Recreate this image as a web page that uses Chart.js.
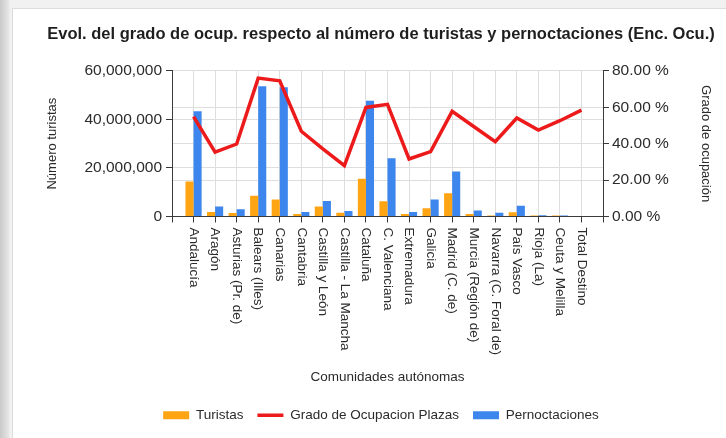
<!DOCTYPE html>
<html>
<head>
<meta charset="utf-8">
<script src="https://cdn.jsdelivr.net/npm/chart.js@4"></script>
<style>
  html, body { margin: 0; padding: 0; }
  body {
    width: 726px; height: 438px; overflow: hidden; position: relative;
    background: #f1f1f1;
    font-family: "Liberation Sans", Arial, sans-serif;
  }
  .strip {
    position: absolute; left: 0; top: 0; width: 11px; height: 438px;
    background: linear-gradient(to right, #c9c9c9, #e2e2e2 70%, #f4f4f4);
  }
  .card {
    position: absolute; left: 12px; top: 8px; right: 0; bottom: 0;
    background: #fff; border-left: 1px solid #dcdcdc; border-top: 1px solid #dcdcdc;
  }
  canvas { position: absolute; left: 0; top: 0; }
</style>
</head>
<body>
<div class="strip"></div>
<div class="card"></div>
<canvas id="chart" width="726" height="438"></canvas>
<script>
// Data
const comunidades = [
  "Andalucía", "Aragón", "Asturias (Pr. de)", "Balears (Illes)", "Canarias",
  "Cantabria", "Castilla y León", "Castilla - La Mancha", "Cataluña",
  "C. Valenciana", "Extremadura", "Galicia", "Madrid (C. de)",
  "Murcia (Región de)", "Navarra (C. Foral de)", "País Vasco", "Rioja (La)",
  "Ceuta y Melilla", "Total Destino"
];
// millions
const turistas = [14.4, 1.9, 1.4, 8.5, 7.0, 1.0, 4.1, 1.5, 15.5, 6.3, 1.0, 3.4, 9.6, 1.0, 0.4, 1.8, 0.4, 0.4, 0];
const pernoctaciones = [43.3, 4.1, 3.0, 53.6, 53.2, 1.9, 6.4, 2.3, 47.7, 24.0, 1.9, 7.0, 18.5, 2.5, 1.5, 4.4, 0.5, 0.4, 0];
// percent
const gradoOcupacion = [54.8, 35.3, 39.8, 76.0, 74.5, 46.8, 37.1, 27.9, 59.9, 61.6, 31.6, 35.6, 57.7, 49.4, 41.1, 54.1, 47.5, 52.6, 58.4];

const leftTicks = [0, 20000000, 40000000, 60000000];
const rightTicks = [0, 20, 40, 60, 80];

const ORANGE = "#ffa514";
const BLUE = "#3c86ee";
const RED = "#ec1a1a";
const TEXT = "#2b2b2b";
const GRID = "#dedede";
const AXIS = "#3a3a3a";
const FONT = "'Liberation Sans', Arial, sans-serif";

function points(values, factor) {
  return values.map(function (v, i) {
    return { x: i + 1, y: v * factor };
  });
}

// x labels are drawn reading top-to-bottom, starting under the axis
const xLabelPlugin = {
  id: "xLabels",
  afterDraw(chart) {
    const ctx = chart.ctx;
    const xScale = chart.scales.x;
    ctx.save();
    ctx.fillStyle = TEXT;
    ctx.font = "13.5px " + FONT;
    ctx.textAlign = "left";
    ctx.textBaseline = "middle";
    comunidades.forEach(function (label, i) {
      const px = xScale.getPixelForValue(i + 1);
      ctx.save();
      ctx.translate(px, xScale.top + 11);
      ctx.rotate(Math.PI / 2);
      ctx.fillText(label, 0, 0);
      ctx.restore();
    });
    ctx.restore();
  }
};

const ctx = document.getElementById("chart").getContext("2d");

new Chart(ctx, {
  type: "bar",
  data: {
    datasets: [
      {
        label: "Turistas",
        data: points(turistas, 1000000),
        backgroundColor: ORANGE,
        borderWidth: 0,
        yAxisID: "y",
        order: 1,
        pointStyle: "rect"
      },
      {
        type: "line",
        label: "Grado de Ocupacion Plazas",
        data: points(gradoOcupacion, 1),
        borderColor: RED,
        backgroundColor: RED,
        borderWidth: 3.5,
        pointRadius: 0,
        tension: 0,
        yAxisID: "y1",
        order: 0,
        pointStyle: "line"
      },
      {
        label: "Pernoctaciones",
        data: points(pernoctaciones, 1000000),
        backgroundColor: BLUE,
        borderWidth: 0,
        yAxisID: "y",
        order: 1,
        pointStyle: "rect"
      }
    ]
  },
  options: {
    responsive: false,
    animation: false,
    events: [],
    layout: { padding: { left: 36, right: 0, top: 0, bottom: 6 } },
    datasets: {
      bar: { barPercentage: 1, categoryPercentage: 0.75 }
    },
    scales: {
      x: {
        type: "linear",
        min: 0,
        max: comunidades.length + 1,
        offset: false,
        grid: { offset: false, color: GRID, tickColor: AXIS, tickLength: 6 },
        border: { color: AXIS, width: 1 },
        ticks: { display: false, stepSize: 1 },
        title: {
          display: true,
          text: "Comunidades autónomas",
          color: TEXT,
          font: { family: FONT, size: 13.5 },
          padding: { top: 0, bottom: 9 }
        },
        afterFit(scale) { scale.height = 178; }
      },
      y: {
        position: "left",
        min: 0,
        max: 60000000,
        afterBuildTicks(scale) {
          scale.ticks = leftTicks.map(function (v) { return { value: v }; });
        },
        grid: { color: GRID, tickColor: AXIS, tickLength: 6 },
        border: { color: AXIS, width: 1 },
        ticks: {
          color: TEXT,
          padding: 4,
          font: { family: FONT, size: 15.5 },
          callback: function (v) { return Number(v).toLocaleString("en-US"); }
        },
        title: {
          display: true,
          text: "Número turistas",
          color: TEXT,
          font: { family: FONT, size: 13 },
          padding: { top: 9, bottom: 0 }
        },
        afterFit(scale) { scale.width = 136; }
      },
      y1: {
        position: "right",
        min: 0,
        max: 80,
        afterBuildTicks(scale) {
          scale.ticks = rightTicks.map(function (v) { return { value: v }; });
        },
        grid: { color: GRID, tickColor: AXIS, tickLength: 6 },
        border: { color: AXIS, width: 1 },
        ticks: {
          color: TEXT,
          padding: 3,
          font: { family: FONT, size: 15.5 },
          callback: function (v) { return Number(v).toFixed(2) + " %"; }
        },
        title: {
          display: true,
          text: "Grado de ocupación",
          color: TEXT,
          font: { family: FONT, size: 13 },
          padding: { top: 13, bottom: 0 }
        },
        afterFit(scale) { scale.width = 123; }
      }
    },
    plugins: {
      title: {
        display: true,
        text: "Evol. del grado de ocup. respecto al número de turistas y pernoctaciones (Enc. Ocu.)",
        color: "#1e1e1e",
        font: { family: FONT, size: 16.5, weight: "bold" },
        padding: { top: 25, bottom: 26 }
      },
      legend: {
        position: "bottom",
        labels: {
          sort: function (a, b) { return a.datasetIndex - b.datasetIndex; },
          usePointStyle: true,
          pointStyleWidth: 26,
          boxWidth: 26,
          boxHeight: 8,
          padding: 14,
          color: TEXT,
          font: { family: FONT, size: 13.5 }
        }
      },
      tooltip: { enabled: false }
    }
  },
  plugins: [xLabelPlugin]
});
</script>
</body>
</html>
